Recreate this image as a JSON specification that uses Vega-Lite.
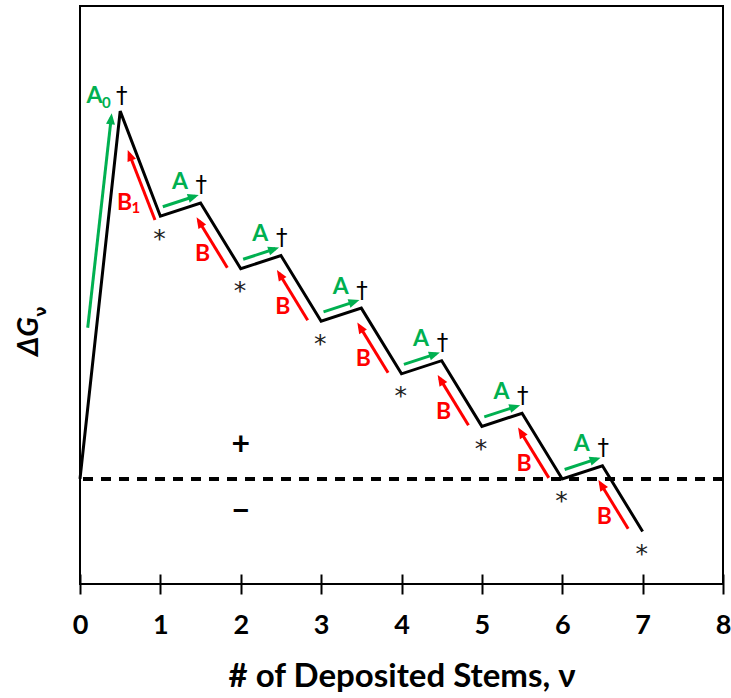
{
  "$schema": "https://vega.github.io/schema/vega-lite/v6.json",
  "width": 643,
  "height": 578,
  "autosize": "none",
  "padding": {"left": 80, "top": 6, "right": 8, "bottom": 114},
  "background": "white",
  "config": {
    "view": {"stroke": "black", "strokeWidth": 2},
    "font": "Lato"
  },
  "datasets": {
    "profile": [
      {"nu": 0, "dG": 0}, {"nu": 0.5, "dG": 7}, {"nu": 1, "dG": 5}, {"nu": 1.5, "dG": 5.25},
      {"nu": 2, "dG": 4}, {"nu": 2.5, "dG": 4.25}, {"nu": 3, "dG": 3}, {"nu": 3.5, "dG": 3.25},
      {"nu": 4, "dG": 2}, {"nu": 4.5, "dG": 2.25}, {"nu": 5, "dG": 1}, {"nu": 5.5, "dG": 1.25},
      {"nu": 6, "dG": 0}, {"nu": 6.5, "dG": 0.25}, {"nu": 7, "dG": -1}
    ],
    "arrows": [
      {"step": "A", "x1": 0.096, "y1": 2.877, "x2": 0.389, "y2": 6.881},
      {"step": "B", "x1": 0.933, "y1": 4.927, "x2": 0.612, "y2": 6.188},
      {"step": "A", "x1": 1.03, "y1": 5.18, "x2": 1.43, "y2": 5.38},
      {"step": "A", "x1": 2.03, "y1": 4.18, "x2": 2.43, "y2": 4.38},
      {"step": "A", "x1": 3.03, "y1": 3.18, "x2": 3.43, "y2": 3.38},
      {"step": "A", "x1": 4.03, "y1": 2.18, "x2": 4.43, "y2": 2.38},
      {"step": "A", "x1": 5.03, "y1": 1.18, "x2": 5.43, "y2": 1.38},
      {"step": "A", "x1": 6.03, "y1": 0.18, "x2": 6.43, "y2": 0.38},
      {"step": "B", "x1": 1.833, "y1": 4.02, "x2": 1.476, "y2": 4.913},
      {"step": "B", "x1": 2.833, "y1": 3.02, "x2": 2.476, "y2": 3.913},
      {"step": "B", "x1": 3.833, "y1": 2.02, "x2": 3.476, "y2": 2.913},
      {"step": "B", "x1": 4.833, "y1": 1.02, "x2": 4.476, "y2": 1.913},
      {"step": "B", "x1": 5.833, "y1": 0.02, "x2": 5.476, "y2": 0.913},
      {"step": "B", "x1": 6.82, "y1": -0.95, "x2": 6.476, "y2": -0.087}
    ],
    "letters": [
      {"step": "A", "label": "A", "x": 0.18, "y": 7.283},
      {"step": "B", "label": "B", "x": 0.556, "y": 5.26},
      {"step": "A", "label": "A", "x": 1.243, "y": 5.657},
      {"step": "A", "label": "A", "x": 2.243, "y": 4.657},
      {"step": "A", "label": "A", "x": 3.243, "y": 3.657},
      {"step": "A", "label": "A", "x": 4.243, "y": 2.657},
      {"step": "A", "label": "A", "x": 5.243, "y": 1.657},
      {"step": "A", "label": "A", "x": 6.243, "y": 0.657},
      {"step": "B", "label": "B", "x": 1.525, "y": 4.28},
      {"step": "B", "label": "B", "x": 2.525, "y": 3.28},
      {"step": "B", "label": "B", "x": 3.525, "y": 2.28},
      {"step": "B", "label": "B", "x": 4.525, "y": 1.28},
      {"step": "B", "label": "B", "x": 5.525, "y": 0.28},
      {"step": "B", "label": "B", "x": 6.525, "y": -0.72}
    ],
    "subscripts": [
      {"step": "A", "label": "0", "x": 0.327, "y": 7.147},
      {"step": "B", "label": "1", "x": 0.694, "y": 5.165}
    ],
    "daggers": [
      {"x": 0.52, "y": 7.29}, {"x": 1.51, "y": 5.585}, {"x": 2.51, "y": 4.585},
      {"x": 3.51, "y": 3.585}, {"x": 4.51, "y": 2.585}, {"x": 5.51, "y": 1.585},
      {"x": 6.51, "y": 0.585}
    ],
    "stars": [
      {"x": 0.99, "y": 4.67}, {"x": 1.99, "y": 3.67}, {"x": 2.99, "y": 2.67},
      {"x": 3.99, "y": 1.67}, {"x": 4.99, "y": 0.67}, {"x": 5.99, "y": -0.33},
      {"x": 6.99, "y": -1.33}
    ],
    "signs": [
      {"label": "+", "x": 2, "y": 0.645},
      {"label": "−", "x": 2, "y": -0.605}
    ],
    "ysub": [
      {"label": "ν", "x": -0.423, "y": 3.185}
    ]
  },
  "layer": [
    {
      "data": {"name": "profile"},
      "mark": {"type": "line", "color": "black", "strokeWidth": 3, "strokeJoin": "miter"},
      "encoding": {
        "x": {
          "field": "nu",
          "type": "quantitative",
          "scale": {"domain": [0, 8], "nice": false, "zero": false},
          "axis": {
            "title": "# of Deposited Stems, ν",
            "titleFont": "Lato",
            "titleFontSize": 33,
            "titleFontWeight": "bold",
            "titleColor": "black",
            "titleBaseline": "alphabetic",
            "titleY": 112,
            "values": [0, 1, 2, 3, 4, 5, 6, 7, 8],
            "format": "d",
            "labelFont": "Lato",
            "labelFontSize": 27,
            "labelFontWeight": "bold",
            "labelColor": "black",
            "labelBaseline": "alphabetic",
            "labelPadding": 39,
            "labelFlush": false,
            "labelOverlap": false,
            "offset": -10,
            "tickSize": 20,
            "tickWidth": 2,
            "tickColor": "black",
            "domain": false,
            "grid": false
          }
        },
        "y": {
          "field": "dG",
          "type": "quantitative",
          "scale": {"domain": [-2, 9], "nice": false, "zero": false},
          "axis": {
            "title": "ΔG",
            "titleFont": "Lato",
            "titleFontSize": 29,
            "titleFontWeight": "bold",
            "titleFontStyle": "italic",
            "titleColor": "black",
            "titleAngle": 270,
            "titleAlign": "center",
            "titleBaseline": "alphabetic",
            "titleX": -43,
            "titleY": 330,
            "labels": false,
            "ticks": false,
            "domain": false,
            "grid": false
          }
        }
      }
    },
    {
      "data": {"name": "profile"},
      "mark": {"type": "rule", "color": "black", "strokeWidth": 2.5, "strokeDash": [10, 8]},
      "encoding": {
        "y": {"datum": 0, "type": "quantitative"}
      }
    },
    {
      "data": {"name": "arrows"},
      "mark": {"type": "rule", "strokeWidth": 3},
      "encoding": {
        "x": {"field": "x1", "type": "quantitative", "title": "# of Deposited Stems, ν"},
        "y": {"field": "y1", "type": "quantitative", "title": "ΔG"},
        "x2": {"field": "x2"},
        "y2": {"field": "y2"},
        "color": {"field": "step", "type": "nominal", "scale": {"domain": ["A", "B"], "range": ["#00B050", "#FF0000"]}, "legend": null}
      }
    },
    {
      "data": {"name": "arrows"},
      "transform": [
        {"calculate": "atan2((datum.x2 - datum.x1) * 80.375, (datum.y2 - datum.y1) * 52.55) * 180 / PI", "as": "heading"}
      ],
      "mark": {"type": "point", "filled": true, "opacity": 1, "strokeWidth": 0, "size": 400, "shape": "M0,-0.4L0.45,0.7L-0.45,0.7Z"},
      "encoding": {
        "x": {"field": "x2", "type": "quantitative", "title": "# of Deposited Stems, ν"},
        "y": {"field": "y2", "type": "quantitative", "title": "ΔG"},
        "angle": {"field": "heading", "type": "quantitative", "scale": null},
        "color": {"field": "step", "type": "nominal", "legend": null}
      }
    },
    {
      "data": {"name": "letters"},
      "mark": {"type": "text", "font": "Lato", "fontSize": 23, "fontWeight": "bold", "align": "center", "baseline": "middle"},
      "encoding": {
        "x": {"field": "x", "type": "quantitative", "title": "# of Deposited Stems, ν"},
        "y": {"field": "y", "type": "quantitative", "title": "ΔG"},
        "text": {"field": "label"},
        "color": {"field": "step", "type": "nominal", "legend": null}
      }
    },
    {
      "data": {"name": "subscripts"},
      "mark": {"type": "text", "font": "Lato", "fontSize": 15, "fontWeight": "bold", "align": "center", "baseline": "middle"},
      "encoding": {
        "x": {"field": "x", "type": "quantitative", "title": "# of Deposited Stems, ν"},
        "y": {"field": "y", "type": "quantitative", "title": "ΔG"},
        "text": {"field": "label"},
        "color": {"field": "step", "type": "nominal", "legend": null}
      }
    },
    {
      "data": {"name": "daggers"},
      "mark": {"type": "text", "text": "†", "font": "DejaVu Sans", "fontSize": 23, "color": "black", "align": "center", "baseline": "middle"},
      "encoding": {
        "x": {"field": "x", "type": "quantitative", "title": "# of Deposited Stems, ν"},
        "y": {"field": "y", "type": "quantitative", "title": "ΔG"}
      }
    },
    {
      "data": {"name": "stars"},
      "mark": {"type": "text", "text": "*", "font": "DejaVu Sans", "fontSize": 25, "color": "#222222", "align": "center", "baseline": "middle", "dy": 5},
      "encoding": {
        "x": {"field": "x", "type": "quantitative", "title": "# of Deposited Stems, ν"},
        "y": {"field": "y", "type": "quantitative", "title": "ΔG"}
      }
    },
    {
      "data": {"name": "signs"},
      "mark": {"type": "text", "font": "Lato", "fontSize": 32, "fontWeight": "bold", "color": "black", "align": "center", "baseline": "middle"},
      "encoding": {
        "x": {"field": "x", "type": "quantitative", "title": "# of Deposited Stems, ν"},
        "y": {"field": "y", "type": "quantitative", "title": "ΔG"},
        "text": {"field": "label"}
      }
    },
    {
      "data": {"name": "ysub"},
      "mark": {"type": "text", "font": "DejaVu Sans", "fontSize": 15, "fontWeight": "bold", "color": "black", "align": "center", "baseline": "alphabetic", "angle": 270},
      "encoding": {
        "x": {"field": "x", "type": "quantitative", "title": "# of Deposited Stems, ν"},
        "y": {"field": "y", "type": "quantitative", "title": "ΔG"},
        "text": {"field": "label"}
      }
    }
  ]
}
